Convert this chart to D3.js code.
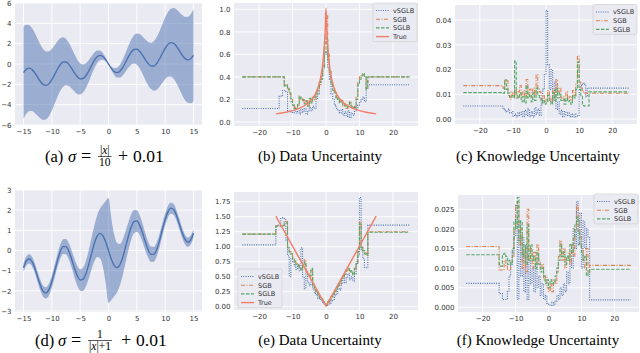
<!DOCTYPE html>
<html><head><meta charset="utf-8">
<script src="https://cdn.jsdelivr.net/npm/d3@7"></script>
<style>body{margin:0;background:#fff}svg{display:block}</style>
</head><body>
<svg id="c" width="640" height="353"></svg>
<script>
// ---------- DATA ----------
const xSmooth = [-15,-14.5,-14,-13.5,-13,-12.5,-12,-11.5,-11,-10.5,-10,-9.5,-9,-8.5,-8,-7.5,-7,-6.5,-6,-5.5,-5,-4.5,-4,-3.5,-3,-2.5,-2,-1.5,-1,-0.5,0,0.5,1,1.5,2,2.5,3,3.5,4,4.5,5,5.5,6,6.5,7,7.5,8,8.5,9,9.5,10,10.5,11,11.5,12,12.5,13,13.5,14,14.5,15];
const meanVals = [-0.85,-0.52,-0.41,-0.55,-0.88,-1.32,-1.74,-2.03,-2.10,-1.93,-1.54,-1.03,-0.49,-0.05,0.19,0.19,-0.04,-0.43,-0.88,-1.26,-1.46,-1.43,-1.16,-0.70,-0.16,0.35,0.71,0.85,0.74,0.43,0,-0.43,-0.74,-0.85,-0.71,-0.35,0.16,0.70,1.16,1.43,1.46,1.26,0.88,0.43,0.04,-0.19,-0.19,0.05,0.49,1.03,1.54,1.93,2.10,2.03,1.74,1.32,0.88,0.55,0.41,0.52,0.85];
const bandA = [4.53,4.38,4.23,4.08,3.93,3.78,3.63,3.48,3.33,3.18,3.03,2.88,2.73,2.58,2.43,2.28,2.13,1.98,1.83,1.68,1.53,1.38,1.23,1.08,0.93,0.78,0.63,0.48,0.33,0.18,0.03,0.18,0.33,0.48,0.63,0.78,0.93,1.08,1.23,1.38,1.53,1.68,1.83,1.98,2.13,2.28,2.43,2.58,2.73,2.88,3.03,3.18,3.33,3.48,3.63,3.78,3.93,4.08,4.23,4.38,4.53];
const bandD = [0.218,0.224,0.23,0.237,0.244,0.252,0.261,0.27,0.28,0.291,0.303,0.316,0.33,0.346,0.363,0.383,0.405,0.43,0.459,0.49,0.53,0.575,0.63,0.697,0.78,0.887,1.03,1.23,1.53,2.03,2.6,2.03,1.53,1.23,1.03,0.887,0.78,0.697,0.63,0.575,0.53,0.49,0.459,0.43,0.405,0.383,0.363,0.346,0.33,0.316,0.303,0.291,0.28,0.27,0.261,0.252,0.244,0.237,0.23,0.224,0.218];

const xGrid = [-16,-15.5,-15,-14.5,-14,-13.5,-13,-12.5,-12,-11.5,-11,-10.5,-10,-9.5,-9,-8.5,-8,-7.5,-7,-6.5,-6,-5.5,-5,-4.5,-4,-3.5,-3,-2.5,-2,-1.5,-1,-0.5,0,0.5,1,1.5,2,2.5,3,3.5,4,4.5,5,5.5,6,6.5,7,7.5,8,8.5,9,9.5,10,10.5,11,11.5,12,12.5,13,13.5,14,14.5,15,15.5,16];
const xFlatEnds = [-25, 25];

const bV = [0.12,0.12,0.12,0.12,0.23,0.23,0.28,0.28,
 0.27,0.10,0.09,0.10,0.08,0.12,0.08,0.10,
 0.07,0.11,0.09,0.12,0.07,0.10,0.13,0.10,
 0.14,0.12,0.20,0.25,0.35,0.40,0.50,0.60,
 0.62,0.48,0.38,0.25,0.20,0.15,0.12,0.10,
 0.08,0.11,0.06,0.09,0.05,0.10,0.04,0.08,
 0.06,0.10,0.12,0.15,0.18,0.20,0.22,0.18,
 0.33,0.33,0.33,0.33,0.33,0.33,0.33,0.33,0.33];
const bSGB = [0.40,0.40,0.40,0.40,0.40,0.40,0.40,0.33,
 0.32,0.30,0.25,0.20,0.15,0.13,0.12,0.15,
 0.22,0.21,0.19,0.17,0.19,0.15,0.20,0.18,
 0.22,0.20,0.26,0.28,0.33,0.40,0.50,0.70,
 0.95,0.60,0.42,0.35,0.30,0.27,0.22,0.20,
 0.18,0.20,0.14,0.16,0.12,0.15,0.18,0.13,
 0.12,0.14,0.22,0.35,0.40,0.42,0.42,0.40,
 0.30,0.40,0.40,0.40,0.40,0.40,0.40,0.40,0.40];
const bSGLB = [0.40,0.40,0.40,0.40,0.40,0.40,0.40,0.32,
 0.33,0.29,0.26,0.18,0.15,0.12,0.12,0.16,
 0.23,0.20,0.20,0.16,0.18,0.14,0.21,0.17,
 0.21,0.22,0.25,0.30,0.35,0.38,0.48,0.62,
 0.75,0.55,0.45,0.33,0.28,0.26,0.20,0.21,
 0.17,0.19,0.15,0.15,0.13,0.14,0.17,0.14,
 0.13,0.13,0.20,0.33,0.38,0.41,0.43,0.40,
 0.29,0.40,0.40,0.40,0.40,0.40,0.40,0.40,0.40];
const bTrueX = [-15,-12,-10,-8,-6,-5,-4,-3,-2,-1.5,-1,-0.5,-0.25,0,0.25,0.5,1,1.5,2,3,4,5,6,8,10,12,15];
const bTrueY = [0.0725,0.0869,0.1009,0.1211,0.1529,0.1767,0.21,0.26,0.3433,0.41,0.51,0.6767,0.81,1.01,0.81,0.6767,0.51,0.41,0.3433,0.26,0.21,0.1767,0.1529,0.1211,0.1009,0.0869,0.0725];

const cV = [0.0053,0.0053,0.0053,0.0053,0.0053,0.0052,0.004,0.0035,
 0.003,0.004,0.0025,0.003,0.0012,0.002,0.0008,0.0025,
 0.0015,0.003,0.001,0.0035,0.0015,0.004,0.001,0.003,
 0.0008,0.0045,0.002,0.004,0.0015,0.006,0.012,0.018,
 0.044,0.022,0.012,0.02,0.008,0.015,0.004,0.007,
 0.002,0.0035,0.001,0.003,0.0015,0.0025,0.001,0.002,
 0.0008,0.002,0.001,0.0015,0.012,0.0135,0.0145,0.014,
 0.009,0.0125,0.0125,0.0125,0.0125,0.0125,0.0125,0.0125,0.0125];
const cSGB = [0.0135,0.0135,0.0135,0.0135,0.0135,0.0135,0.0125,0.016,
 0.0155,0.0095,0.008,0.011,0.009,0.012,0.0085,0.011,
 0.0135,0.009,0.0115,0.0085,0.016,0.010,0.012,0.009,
 0.0125,0.0095,0.018,0.0125,0.011,0.008,0.0095,0.007,
 0.008,0.0115,0.009,0.0065,0.012,0.0085,0.016,0.011,
 0.0125,0.0085,0.009,0.0075,0.011,0.008,0.009,0.0075,
 0.0115,0.0095,0.014,0.0255,0.015,0.0125,0.011,0.0105,
 0.0105,0.0104,0.0104,0.0104,0.0104,0.0104,0.0104,0.0104,0.0104];
const cSGLB = [0.0107,0.0107,0.0107,0.0107,0.0107,0.0107,0.0105,0.0158,
 0.012,0.0105,0.009,0.0095,0.0085,0.0235,0.010,0.0085,
 0.0105,0.007,0.009,0.0065,0.0135,0.0085,0.010,0.007,
 0.0105,0.0075,0.0125,0.0095,0.0085,0.0065,0.0075,0.006,
 0.0065,0.0095,0.007,0.006,0.0105,0.0075,0.0125,0.0085,
 0.0105,0.0075,0.008,0.006,0.0085,0.007,0.0075,0.006,
 0.0095,0.0085,0.012,0.023,0.012,0.0095,0.0055,0.0053,
 0.0053,0.0053,0.011,0.011,0.011,0.011,0.011,0.011,0.011];

const eV = [1.03,1.03,1.35,1.36,1.36,1.48,1.48,1.45,
 1.10,0.85,0.50,0.80,0.75,0.68,0.62,0.70,
 0.60,0.98,0.50,0.30,0.55,0.40,0.35,0.45,
 0.30,0.22,0.20,0.14,0.12,0.10,0.06,0.04,
 0.02,0.04,0.06,0.10,0.12,0.18,0.22,0.30,
 0.28,0.38,0.52,0.40,0.48,0.55,0.45,0.50,
 0.43,0.55,0.72,0.85,1.82,0.95,0.80,0.65,
 0.65,1.36,1.36,1.36,1.36,1.36,1.36,1.36,1.36];
const eSGB = [1.21,1.21,1.35,1.35,1.35,1.35,1.35,1.42,
 1.42,1.00,0.92,0.86,0.80,0.75,0.72,0.70,
 0.65,0.63,0.68,0.78,0.58,0.55,0.50,0.60,
 0.38,0.30,0.25,0.20,0.16,0.12,0.09,0.05,
 0.02,0.07,0.12,0.16,0.20,0.25,0.30,0.35,
 0.38,0.45,0.50,0.55,0.60,0.65,0.60,0.58,
 0.55,0.62,0.75,0.90,1.42,1.00,0.95,0.90,
 0.85,1.25,1.25,1.25,1.25,1.25,1.25,1.25,1.25];
const eSGLB = [1.21,1.21,1.34,1.34,1.34,1.34,1.36,1.40,
 1.40,0.98,0.90,0.88,0.78,0.76,0.70,0.68,
 0.66,0.62,0.70,0.74,0.60,0.52,0.52,0.64,
 0.36,0.32,0.24,0.21,0.15,0.13,0.08,0.06,
 0.02,0.08,0.11,0.17,0.21,0.24,0.31,0.34,
 0.40,0.44,0.52,0.54,0.62,0.63,0.58,0.60,
 0.53,0.64,0.72,0.92,1.38,0.98,0.93,0.88,
 0.86,1.24,1.24,1.24,1.24,1.24,1.24,1.24,1.24];
const eTrueX = [-15, 0, 15];
const eTrueY = [1.51, 0.01, 1.51];

const fV = [0.0061,0.0061,0.0035,0.0035,0.002,0.002,0.002,0.004,
 0.008,0.011,0.014,0.018,0.026,0.002,0.022,0.008,
 0.018,0.004,0.016,0.002,0.012,0.006,0.010,0.004,
 0.011,0.005,0.008,0.003,0.006,0.002,0.003,0.001,
 0.0008,0.0005,0.0012,0.0006,0.0015,0.003,0.002,0.005,
 0.003,0.006,0.004,0.009,0.006,0.013,0.010,0.020,
 0.015,0.027,0.016,0.024,0.010,0.022,0.015,0.020,
 0.018,0.0019,0.0019,0.0019,0.0019,0.0019,0.0019,0.0019,0.0019];
const fSGB = [0.0155,0.0155,0.0095,0.0095,0.0095,0.012,0.0105,0.0095,
 0.0095,0.0115,0.013,0.020,0.026,0.027,0.016,0.020,
 0.010,0.015,0.009,0.025,0.012,0.015,0.010,0.014,
 0.011,0.016,0.012,0.010,0.011,0.007,0.008,0.005,
 0.004,0.006,0.004,0.007,0.006,0.009,0.013,0.017,
 0.012,0.015,0.010,0.012,0.014,0.011,0.016,0.013,
 0.020,0.026,0.022,0.018,0.015,0.012,0.010,0.015,
 0.009,0.0107,0.0107,0.0107,0.0107,0.0107,0.0107,0.0107,0.0107];
const fSGLB = [0.0134,0.0134,0.0105,0.0105,0.0135,0.0138,0.013,0.011,
 0.012,0.011,0.015,0.022,0.020,0.028,0.017,0.022,
 0.013,0.016,0.011,0.021,0.012,0.016,0.012,0.013,
 0.010,0.014,0.011,0.009,0.010,0.008,0.006,0.007,
 0.005,0.007,0.006,0.0065,0.008,0.010,0.012,0.016,
 0.013,0.014,0.011,0.013,0.012,0.016,0.014,0.018,
 0.021,0.023,0.019,0.016,0.014,0.012,0.013,0.008,
 0.009,0.0097,0.0097,0.0097,0.0097,0.0097,0.0097,0.0097,0.0097];

const xTicksAD = [-15,-10,-5,0,5,10,15];
const xTicksW = [-20,-10,0,10,20];
const yTicksA = [-6,-4,-2,0,2,4,6];
const yTicksD = [-3,-2,-1,0,1,2,3];
const yTicksB = [0,0.2,0.4,0.6,0.8,1.0];
const yTicksC = [0,0.01,0.02,0.03,0.04];
const yTicksE = [0,0.25,0.5,0.75,1.0,1.25,1.5,1.75];
const yTicksF = [0,0.005,0.01,0.015,0.02,0.025];
const seriesNames = ['vSGLB','SGB','SGLB','True'];

// ---------- STYLE ----------
const BG = '#eaeaf2';
const STY = {
  vSGLB:{c:'#4c72b0', dash:'1,1.3', w:1.1},
  SGB:{c:'#dd8452', dash:'4,1.5,1,1.5', w:1.1},
  SGLB:{c:'#55a868', dash:'3.5,1.5', w:1.1},
  True:{c:'#f07e68', dash:null, w:1.4}
};
const svg = d3.select('#c');
let clipN = 0;

function panel(cfg){
  const g = svg.append('g');
  const x = d3.scaleLinear().domain(cfg.xd).range([cfg.l, cfg.r]);
  const y = d3.scaleLinear().domain(cfg.yd).range([cfg.b, cfg.t]);
  g.append('rect').attr('x',cfg.l).attr('y',cfg.t).attr('width',cfg.r-cfg.l).attr('height',cfg.b-cfg.t).attr('fill',BG);
  g.append('g').selectAll('line').data(cfg.xt).join('line')
    .attr('x1',d=>x(d)).attr('x2',d=>x(d)).attr('y1',cfg.t).attr('y2',cfg.b)
    .attr('stroke','#fff').attr('stroke-width',0.9);
  g.append('g').selectAll('line').data(cfg.yt).join('line')
    .attr('y1',d=>y(d)).attr('y2',d=>y(d)).attr('x1',cfg.l).attr('x2',cfg.r)
    .attr('stroke','#fff').attr('stroke-width',0.9);
  const ax = g.append('g').attr('transform',`translate(0,${cfg.b})`)
    .call(d3.axisBottom(x).tickValues(cfg.xt).tickSize(0).tickPadding(4).tickFormat(d3.format('d')));
  const ay = g.append('g').attr('transform',`translate(${cfg.l},0)`)
    .call(d3.axisLeft(y).tickValues(cfg.yt).tickSize(0).tickPadding(3.5).tickFormat(cfg.yf));
  [ax, ay].forEach(a=>{
    a.select('.domain').remove();
    a.selectAll('text').attr('font-family','DejaVu Sans, sans-serif').attr('font-size',7).attr('fill','#333');
  });
  const id = 'clip'+(clipN++);
  svg.append('clipPath').attr('id',id).append('rect')
    .attr('x',cfg.l).attr('y',cfg.t).attr('width',cfg.r-cfg.l).attr('height',cfg.b-cfg.t);
  const plot = g.append('g').attr('clip-path',`url(#${id})`);
  return {g, plot, x, y};
}

function stepSeries(P, vals, name){
  const pts = [[xFlatEnds[0], vals[0]]].concat(xGrid.map((gx,i)=>[gx, vals[i]])).concat([[xFlatEnds[1], vals[vals.length-1]]]);
  const s = STY[name];
  P.plot.append('path').datum(pts)
    .attr('d', d3.line().x(d=>P.x(d[0])).y(d=>P.y(d[1])).curve(d3.curveStepAfter))
    .attr('fill','none').attr('stroke',s.c).attr('stroke-width',s.w)
    .attr('stroke-dasharray',s.dash);
}
function trueLine(P, xs, ys, curve){
  const s = STY.True;
  P.plot.append('path').datum(xs.map((v,i)=>[v, ys[i]]))
    .attr('d', d3.line().x(d=>P.x(d[0])).y(d=>P.y(d[1])).curve(curve))
    .attr('fill','none').attr('stroke',s.c).attr('stroke-width',s.w);
}
function legend(P, lx, ly, names){
  const n = names.length;
  const h = 7.5 + (n-1)*8.7 + 5;
  P.g.append('rect').attr('x',lx).attr('y',ly).attr('width',44).attr('height',h)
    .attr('rx',1.5).attr('fill',BG).attr('fill-opacity',0.85).attr('stroke','#d0d0d0').attr('stroke-width',0.7);
  names.forEach((nm,i)=>{
    const yy = ly + 7.5 + i*8.7;
    const s = STY[nm];
    P.g.append('line').attr('x1',lx+3).attr('x2',lx+16).attr('y1',yy).attr('y2',yy)
      .attr('stroke',s.c).attr('stroke-width',s.w).attr('stroke-dasharray',s.dash);
    P.g.append('text').attr('x',lx+20).attr('y',yy+2.4).text(nm)
      .attr('font-family','DejaVu Sans, sans-serif').attr('font-size',6.5).attr('fill','#333');
  });
}
function band(P, xs, mean, hw){
  const data = xs.map((v,i)=>({x:v, m:mean[i], h:hw[i]}));
  P.plot.append('path').datum(data)
    .attr('d', d3.area().x(d=>P.x(d.x)).y0(d=>P.y(d.m-d.h)).y1(d=>P.y(d.m+d.h)).curve(d3.curveMonotoneX))
    .attr('fill','#4c72b0').attr('fill-opacity',0.5);
  P.plot.append('path').datum(data)
    .attr('d', d3.line().x(d=>P.x(d.x)).y(d=>P.y(d.m)).curve(d3.curveMonotoneX))
    .attr('fill','none').attr('stroke','#4c72b0').attr('stroke-width',1.4);
}

const FS = 'Liberation Serif, Times New Roman, serif';
function addRuns(t, runs){
  runs.forEach(r=>{ const ts = t.append('tspan').text(r[0]); if(r[1]) ts.attr('font-style','italic'); });
}
function caption(cx, base, txt){
  svg.append('text').attr('x',cx).attr('y',base).attr('text-anchor','middle')
    .attr('font-family',FS).attr('font-size',15).attr('fill','#000').text(txt);
}
function mathCaption(base, pieces){
  const g = svg.append('g').attr('font-family',FS).attr('fill','#000');
  pieces.forEach(p=>{
    if (p.frac){
      const fs = 11.5;
      const num = g.append('text').attr('font-size',fs).attr('text-anchor','middle'); addRuns(num,p.frac[0]);
      const den = g.append('text').attr('font-size',fs).attr('text-anchor','middle'); addRuns(den,p.frac[1]);
      const w = Math.max(num.node().getComputedTextLength(), den.node().getComputedTextLength()) + 2;
      const by = base - 5.5;
      const cx = p.x + w/2;
      g.append('line').attr('stroke','#000').attr('stroke-width',0.65)
        .attr('x1',p.x).attr('x2',p.x+w).attr('y1',by).attr('y2',by);
      num.attr('x',cx).attr('y',by-2.5);
      den.attr('x',cx).attr('y',by+9);
    } else {
      const t = g.append('text').attr('font-size',p.fs||16.5).attr('x',p.x).attr('y',base);
      addRuns(t,p.runs);
    }
  });
}

// ---------- PANELS ----------
const A = panel({l:15,r:202,t:3,b:125,xd:[-16.5,16.5],yd:[-6,6],xt:xTicksAD,yt:yTicksA,yf:d3.format('d')});
band(A, xSmooth, meanVals, bandA);
const D = panel({l:15,r:202,t:190,b:312,xd:[-16.5,16.5],yd:[-3.05,3.0],xt:xTicksAD,yt:yTicksD,yf:d3.format('d')});
band(D, xSmooth, meanVals, bandD);

const B = panel({l:234,r:418,t:3,b:126,xd:[-27.5,27.5],yd:[-0.0355,1.056],xt:xTicksW,yt:yTicksB,yf:d3.format('.1f')});
stepSeries(B,bV,'vSGLB'); stepSeries(B,bSGB,'SGB'); stepSeries(B,bSGLB,'SGLB');
trueLine(B,bTrueX,bTrueY,d3.curveMonotoneX);
legend(B,373,3,seriesNames);

const C = panel({l:455,r:637,t:5,b:124,xd:[-27.5,27.5],yd:[-0.002,0.0461],xt:xTicksW,yt:yTicksC,yf:d3.format('.2f')});
stepSeries(C,cV,'vSGLB'); stepSeries(C,cSGB,'SGB'); stepSeries(C,cSGLB,'SGLB');
legend(C,593,4.5,seriesNames.slice(0,3));

const E = panel({l:234,r:418,t:192,b:310,xd:[-27.5,27.5],yd:[-0.055,1.912],xt:xTicksW,yt:yTicksE,yf:d3.format('.2f')});
stepSeries(E,eV,'vSGLB'); stepSeries(E,eSGB,'SGB'); stepSeries(E,eSGLB,'SGLB');
trueLine(E,eTrueX,eTrueY,d3.curveLinear);
legend(E,238,269,seriesNames);

const F = panel({l:458,r:639,t:195,b:312,xd:[-27.5,27.5],yd:[-0.0012,0.02865],xt:xTicksW,yt:yTicksF,yf:d3.format('.3f')});
stepSeries(F,fV,'vSGLB'); stepSeries(F,fSGB,'SGB'); stepSeries(F,fSGLB,'SGLB');
legend(F,594,194,seriesNames.slice(0,3));

// ---------- CAPTIONS ----------
mathCaption(162, [
  {x:45, runs:[['(a)']]}, {x:68, runs:[['σ',1]]}, {x:81, runs:[['=']], fs:18},
  {x:98, frac:[[['|'],['x',1],['|']],[['10']]]}, {x:118, runs:[['+']], fs:18}, {x:133, runs:[['0.01']], fs:17.5}
]);
caption(320, 161, '(b) Data Uncertainty');
caption(538, 161, '(c) Knowledge Uncertainty');
mathCaption(346, [
  {x:35, runs:[['(d)']]}, {x:58, runs:[['σ',1]]}, {x:71, runs:[['=']], fs:18},
  {x:88, frac:[[['1']],[['|'],['x',1],['|+1']]]}, {x:121, runs:[['+']], fs:18}, {x:136, runs:[['0.01']], fs:17.5}
]);
caption(320, 345, '(e) Data Uncertainty');
caption(538, 345, '(f) Knowledge Uncertainty');
</script>
</body></html>
